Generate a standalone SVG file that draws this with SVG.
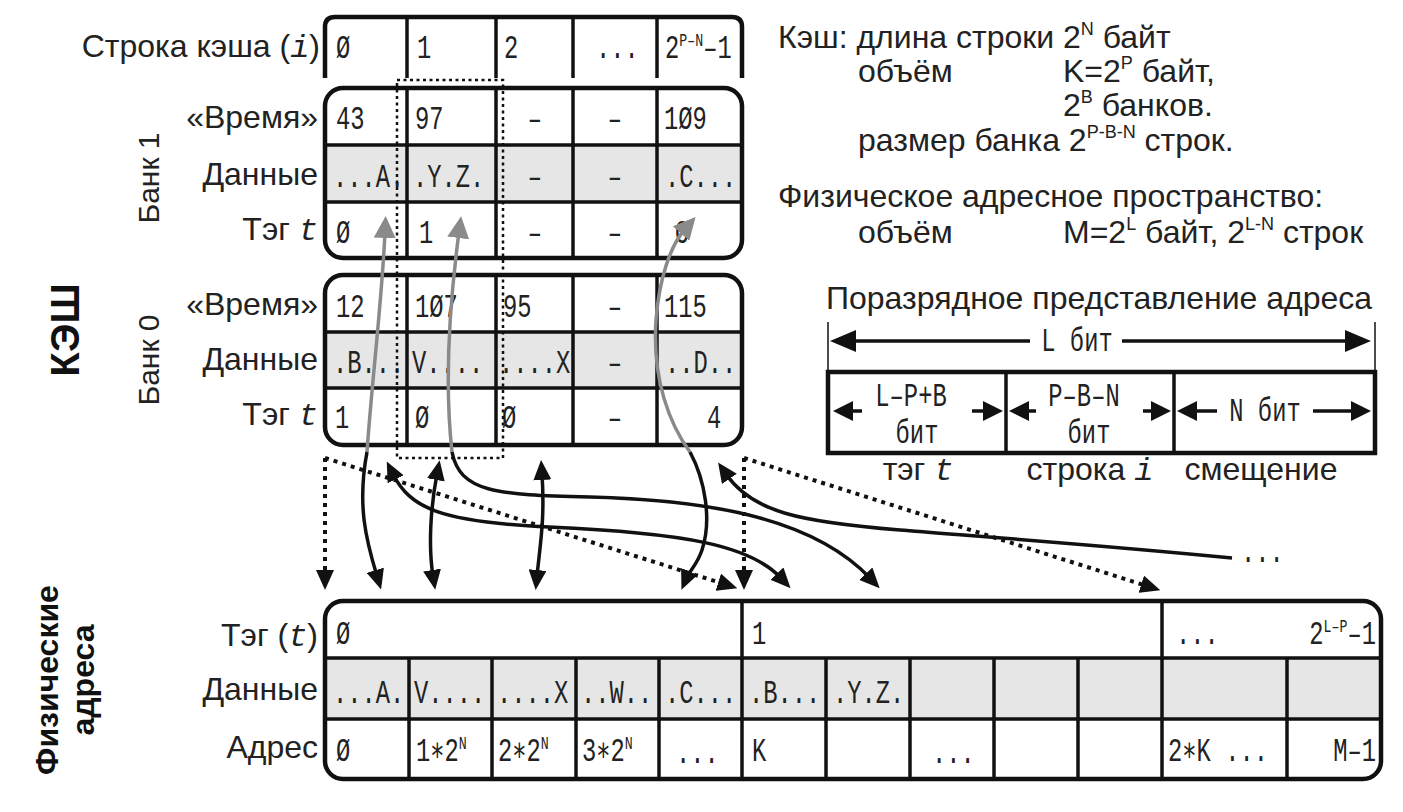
<svg xmlns="http://www.w3.org/2000/svg" width="1403" height="812" viewBox="0 0 1403 812">
<style>
.s{font-family:"Liberation Sans",Arial,sans-serif;font-size:32px;fill:#222}
.b{font-weight:bold;fill:#111}
.m{font-family:"Liberation Mono","DejaVu Sans Mono",monospace;font-size:34px;fill:#222}
.mi{font-family:"Liberation Mono","DejaVu Sans Mono",monospace;font-style:italic}
.sup{font-size:18px}
.msup{font-size:19px}
.frame{fill:none;stroke:#111;stroke-width:4.5}
.dv{stroke:#111;stroke-width:3.5}
.thin{stroke:#111;stroke-width:1.5}
.shade{fill:#e6e6e6}
.con{fill:none;stroke:#111;stroke-width:3.5}
.cg{fill:none;stroke:#8a8a8a;stroke-width:3.5}
.dot{fill:none;stroke:#111;stroke-width:4;stroke-dasharray:4 5}
.dotr{fill:none;stroke:#111;stroke-width:2.5;stroke-dasharray:3 3.5}
</style>
<defs>
<marker id="a" markerUnits="userSpaceOnUse" markerWidth="20" markerHeight="18" refX="6" refY="9" orient="auto-start-reverse"><path d="M0,0 L20,9 L0,18 Z" fill="#111"/></marker>
<marker id="ag" markerUnits="userSpaceOnUse" markerWidth="22" markerHeight="22" refX="6" refY="11" orient="auto"><path d="M0,0 L22,11 L0,22 Z" fill="#8a8a8a"/></marker>
<marker id="ab" markerUnits="userSpaceOnUse" markerWidth="26" markerHeight="22" refX="4" refY="11" orient="auto-start-reverse"><path d="M0,0 L26,11 L0,22 Z" fill="#111"/></marker>
<marker id="ac" markerUnits="userSpaceOnUse" markerWidth="20" markerHeight="20" refX="4" refY="10" orient="auto-start-reverse"><path d="M0,0 L20,10 L0,20 Z" fill="#111"/></marker>
</defs>
<rect width="1403" height="812" fill="#fff"/>

<!-- side labels -->
<g id="side-labels">
<text class="s b" transform="translate(79 330) rotate(-90)" text-anchor="middle" style="font-size:40px">КЭШ</text>
<text class="s" transform="translate(159 178) rotate(-90)" text-anchor="middle" style="font-size:30px">Банк 1</text>
<text class="s" transform="translate(159 360) rotate(-90)" text-anchor="middle" style="font-size:30px">Банк 0</text>
<text class="s b" transform="translate(58 680) rotate(-90)" text-anchor="middle" style="font-size:32px">Физические</text>
<text class="s b" transform="translate(94 680) rotate(-90)" text-anchor="middle" style="font-size:32px">адреса</text>
</g>

<!-- cache line index row -->
<g id="cache-index">
<text class="s" x="320" y="57" text-anchor="end">Строка кэша (<tspan class="mi">i</tspan>)</text>
<path class="frame" d="M325,78 V27 Q325,17 335,17 H732 Q742,17 742,27 V78"/>
<line class="dv" x1="407" y1="17" x2="407" y2="78"/>
<line class="dv" x1="496" y1="17" x2="496" y2="78"/>
<line class="dv" x1="573" y1="17" x2="573" y2="78"/>
<line class="dv" x1="657" y1="17" x2="657" y2="78"/>
<text class="m" transform="translate(336 58) scale(.7 1)">Ø</text>
<text class="m" transform="translate(417 58) scale(.7 1)">1</text>
<text class="m" transform="translate(504 58) scale(.7 1)">2</text>
<text class="m" transform="translate(596 58) scale(.7 1)">...</text>
<text class="m" transform="translate(665 58) scale(.7 1)">2<tspan class="msup" dy="-12">P–N</tspan><tspan dy="12">–1</tspan></text>
</g>

<!-- bank 1 -->
<g id="bank1">
<text class="s" x="318" y="128" text-anchor="end">«Время»</text>
<text class="s" x="318" y="185" text-anchor="end">Данные</text>
<text class="s" x="318" y="240" text-anchor="end">Тэг <tspan class="mi">t</tspan></text>
<rect class="shade" x="325" y="145" width="417" height="57"/>
<line class="dv" x1="325" y1="145" x2="742" y2="145"/>
<line class="dv" x1="325" y1="202" x2="742" y2="202"/>
<line class="dv" x1="407" y1="88" x2="407" y2="256"/>
<line class="dv" x1="496" y1="88" x2="496" y2="258"/>
<line class="dv" x1="573" y1="88" x2="573" y2="258"/>
<line class="dv" x1="657" y1="88" x2="657" y2="258"/>
<rect class="frame" x="325" y="88" width="417" height="170" rx="18"/>
<text class="m" transform="translate(336 129) scale(.7 1)">43</text>
<text class="m" transform="translate(415 129) scale(.7 1)">97</text>
<text class="m" transform="translate(535 129) scale(.7 1)" text-anchor="middle">–</text>
<text class="m" transform="translate(615 129) scale(.7 1)" text-anchor="middle">–</text>
<text class="m" transform="translate(664 129) scale(.7 1)">1Ø9</text>
<text class="m" transform="translate(333 187) scale(.7 1)">...A.</text>
<text class="m" transform="translate(413 187) scale(.7 1)">.Y.Z.</text>
<text class="m" transform="translate(535 187) scale(.7 1)" text-anchor="middle">–</text>
<text class="m" transform="translate(615 187) scale(.7 1)" text-anchor="middle">–</text>
<text class="m" transform="translate(665 187) scale(.7 1)">.C...</text>
<text class="m" transform="translate(336 243) scale(.7 1)">Ø</text>
<text class="m" transform="translate(419 243) scale(.7 1)">1</text>
<text class="m" transform="translate(535 243) scale(.7 1)" text-anchor="middle">–</text>
<text class="m" transform="translate(615 243) scale(.7 1)" text-anchor="middle">–</text>
<text class="m" transform="translate(675 243) scale(.7 1)">Ø</text>
</g>

<!-- bank 0 -->
<g id="bank0">
<text class="s" x="318" y="315" text-anchor="end">«Время»</text>
<text class="s" x="318" y="370" text-anchor="end">Данные</text>
<text class="s" x="318" y="425" text-anchor="end">Тэг <tspan class="mi">t</tspan></text>
<rect class="shade" x="325" y="332" width="417" height="56"/>
<line class="dv" x1="325" y1="332" x2="742" y2="332"/>
<line class="dv" x1="325" y1="388" x2="742" y2="388"/>
<line class="dv" x1="407" y1="275" x2="407" y2="445"/>
<line class="dv" x1="496" y1="275" x2="496" y2="445"/>
<line class="dv" x1="573" y1="275" x2="573" y2="445"/>
<line class="dv" x1="657" y1="275" x2="657" y2="445"/>
<rect class="frame" x="325" y="275" width="417" height="170" rx="18"/>
<text class="m" transform="translate(336 317) scale(.7 1)">12</text>
<text class="m" transform="translate(415 317) scale(.7 1)">1Ø7</text>
<text class="m" transform="translate(503 317) scale(.7 1)">95</text>
<text class="m" transform="translate(615 317) scale(.7 1)" text-anchor="middle">–</text>
<text class="m" transform="translate(664 317) scale(.7 1)">115</text>
<text class="m" transform="translate(333 373) scale(.7 1)">.B...</text>
<text class="m" transform="translate(412 373) scale(.7 1)">V....</text>
<text class="m" transform="translate(499 373) scale(.7 1)">....X</text>
<text class="m" transform="translate(615 373) scale(.7 1)" text-anchor="middle">–</text>
<text class="m" transform="translate(665 373) scale(.7 1)">..D..</text>
<text class="m" transform="translate(335 428) scale(.7 1)">1</text>
<text class="m" transform="translate(415 428) scale(.7 1)">Ø</text>
<text class="m" transform="translate(502 428) scale(.7 1)">Ø</text>
<text class="m" transform="translate(615 428) scale(.7 1)" text-anchor="middle">–</text>
<text class="m" transform="translate(707 428) scale(.7 1)">4</text>
</g>

<!-- physical address table -->
<g id="phys-table">
<text class="s" x="318" y="646" text-anchor="end">Тэг (<tspan class="mi">t</tspan>)</text>
<text class="s" x="318" y="700" text-anchor="end">Данные</text>
<text class="s" x="318" y="758" text-anchor="end">Адрес</text>
<rect class="shade" x="325" y="658" width="1056" height="61"/>
<line class="dv" x1="325" y1="658" x2="1381" y2="658"/>
<line class="dv" x1="325" y1="719" x2="1381" y2="719"/>
<line class="dv" x1="742" y1="601" x2="742" y2="658"/>
<line class="dv" x1="1162" y1="601" x2="1162" y2="658"/>
<g class="dv">
<line x1="409" y1="658" x2="409" y2="779"/>
<line x1="492" y1="658" x2="492" y2="779"/>
<line x1="576" y1="658" x2="576" y2="779"/>
<line x1="659" y1="658" x2="659" y2="779"/>
<line x1="742" y1="658" x2="742" y2="779"/>
<line x1="826" y1="658" x2="826" y2="779"/>
<line x1="910" y1="658" x2="910" y2="779"/>
<line x1="994" y1="658" x2="994" y2="779"/>
<line x1="1078" y1="658" x2="1078" y2="779"/>
<line x1="1162" y1="658" x2="1162" y2="779"/>
<line x1="1287" y1="658" x2="1287" y2="779"/>
</g>
<rect class="frame" x="325" y="601" width="1056" height="178" rx="18"/>
<text class="m" transform="translate(336 644) scale(.7 1)">Ø</text>
<text class="m" transform="translate(752 644) scale(.7 1)">1</text>
<text class="m" transform="translate(1176 644) scale(.7 1)">...</text>
<text class="m" transform="translate(1376 644) scale(.7 1)" text-anchor="end">2<tspan class="msup" dy="-12">L–P</tspan><tspan dy="12">–1</tspan></text>
<text class="m" transform="translate(333 703) scale(.7 1)">...A.</text>
<text class="m" transform="translate(414 703) scale(.7 1)">V....</text>
<text class="m" transform="translate(497 703) scale(.7 1)">....X</text>
<text class="m" transform="translate(581 703) scale(.7 1)">..W..</text>
<text class="m" transform="translate(665 703) scale(.7 1)">.C...</text>
<text class="m" transform="translate(749 703) scale(.7 1)">.B...</text>
<text class="m" transform="translate(833 703) scale(.7 1)">.Y.Z.</text>
<text class="m" transform="translate(336 761) scale(.7 1)">Ø</text>
<text class="m" transform="translate(416 761) scale(.7 1)">1∗2<tspan class="msup" dy="-12">N</tspan></text>
<text class="m" transform="translate(498 761) scale(.7 1)">2∗2<tspan class="msup" dy="-12">N</tspan></text>
<text class="m" transform="translate(582 761) scale(.7 1)">3∗2<tspan class="msup" dy="-12">N</tspan></text>
<text class="m" transform="translate(676 763) scale(.7 1)">...</text>
<text class="m" transform="translate(752 761) scale(.7 1)">K</text>
<text class="m" transform="translate(932 763) scale(.7 1)">...</text>
<text class="m" transform="translate(1168 761) scale(.7 1)">2∗K ...</text>
<text class="m" transform="translate(1376 761) scale(.7 1)" text-anchor="end">M–1</text>
</g>

<!-- info text -->
<g id="info">
<text class="s" x="778" y="48">Кэш: длина строки 2<tspan class="sup" dy="-13">N</tspan><tspan dy="13"> байт</tspan></text>
<text class="s" x="858" y="82">объём</text>
<text class="s" x="1063" y="82">K=2<tspan class="sup" dy="-13">P</tspan><tspan dy="13"> байт,</tspan></text>
<text class="s" x="1063" y="116">2<tspan class="sup" dy="-13">B</tspan><tspan dy="13"> банков.</tspan></text>
<text class="s" x="858" y="151">размер банка 2<tspan class="sup" dy="-13">P-B-N</tspan><tspan dy="13"> строк.</tspan></text>
<text class="s" x="778" y="207">Физическое адресное пространство:</text>
<text class="s" x="858" y="243">объём</text>
<text class="s" x="1063" y="243">M=2<tspan class="sup" dy="-13">L</tspan><tspan dy="13"> байт, 2</tspan><tspan class="sup" dy="-13">L-N</tspan><tspan dy="13"> строк</tspan></text>
</g>

<!-- bit representation -->
<g id="bit-repr">
<text class="s" x="826" y="309">Поразрядное представление адреса</text>
<line class="thin" x1="828" y1="322" x2="828" y2="372"/>
<line class="thin" x1="1375" y1="322" x2="1375" y2="372"/>
<line class="con" x1="1030" y1="341" x2="852" y2="341" marker-end="url(#ab)"/>
<line class="con" x1="1122" y1="341" x2="1349" y2="341" marker-end="url(#ab)"/>
<text class="m" transform="translate(1077 351) scale(.7 1)" text-anchor="middle">L бит</text>
<rect class="frame" x="828" y="372" width="547" height="81"/>
<line class="dv" x1="1006" y1="372" x2="1006" y2="453"/>
<line class="dv" x1="1174" y1="372" x2="1174" y2="453"/>
<line class="con" x1="862" y1="411" x2="849" y2="411" marker-end="url(#ac)"/>
<line class="con" x1="972" y1="411" x2="987" y2="411" marker-end="url(#ac)"/>
<line class="con" x1="1036" y1="411" x2="1025" y2="411" marker-end="url(#ac)"/>
<line class="con" x1="1143" y1="411" x2="1155" y2="411" marker-end="url(#ac)"/>
<line class="con" x1="1217" y1="411" x2="1193" y2="411" marker-end="url(#ac)"/>
<line class="con" x1="1313" y1="411" x2="1355" y2="411" marker-end="url(#ac)"/>
<text class="m" transform="translate(911 406) scale(.7 1)" text-anchor="middle">L–P+B</text>
<text class="m" transform="translate(917 443) scale(.7 1)" text-anchor="middle">бит</text>
<text class="m" transform="translate(1084 406) scale(.7 1)" text-anchor="middle">P–B–N</text>
<text class="m" transform="translate(1089 443) scale(.7 1)" text-anchor="middle">бит</text>
<text class="m" transform="translate(1265 421) scale(.7 1)" text-anchor="middle">N бит</text>
<text class="s" x="918" y="480" text-anchor="middle">тэг <tspan class="mi">t</tspan></text>
<text class="s" x="1090" y="480" text-anchor="middle">строка <tspan class="mi">i</tspan></text>
<text class="s" x="1261" y="480" text-anchor="middle">смещение</text>
</g>

<!-- connectors -->
<g id="connectors">
<path class="dotr" d="M397,80 H503 V458 H397 Z"/>
<path class="dot" d="M325,458 V576" marker-end="url(#a)"/>
<path class="dot" d="M325,458 L724,584" marker-end="url(#a)"/>
<path class="dot" d="M744,458 V576" marker-end="url(#a)"/>
<path class="dot" d="M744,458 L1147,586" marker-end="url(#a)"/>
<path class="cg" d="M367,452 C372,380 382,300 385,232" marker-end="url(#ag)"/>
<path class="cg" d="M452,452 C444,380 450,300 459,232" marker-end="url(#ag)"/>
<path class="cg" d="M690,452 C670,425 652,380 656,320 C659,280 670,246 685,229" marker-end="url(#ag)"/>
<path class="con" d="M367,452 C357,505 366,540 377,576" marker-end="url(#a)"/>
<path class="con" d="M452,452 C460,492 495,495 590,497 C700,500 810,515 870,578" marker-end="url(#a)"/>
<path class="con" d="M690,452 C705,480 712,520 702,550 C697,565 690,570 687,577" marker-end="url(#a)"/>
<path class="con" d="M393,474 C410,508 440,522 549,527 C684,533 750,545 781,578" marker-start="url(#a)" marker-end="url(#a)"/>
<path class="con" d="M437,474 C431,505 428,545 433,576" marker-start="url(#a)" marker-end="url(#a)"/>
<path class="con" d="M542,474 C545,520 540,545 537,576" marker-start="url(#a)" marker-end="url(#a)"/>
<path class="con" d="M1232,558 C1100,545 960,535 900,530 C800,522 752,512 726,474" marker-end="url(#a)"/>
<text class="m" transform="translate(1241 562) scale(.7 1)">...</text>
</g>
</svg>
